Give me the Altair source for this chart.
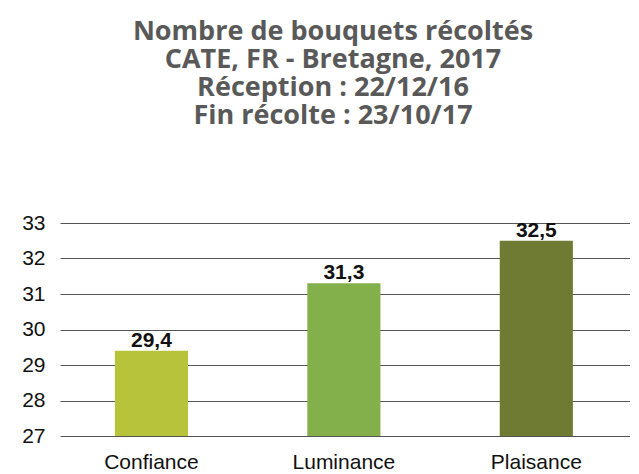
import altair as alt
import pandas as pd

categories = ["Confiance", "Luminance", "Plaisance"]
values = [29.4, 31.3, 32.5]
value_labels = ["29,4", "31,3", "32,5"]
colors = ["#B8C33C", "#84B04C", "#6F7A33"]
y_ticks = [27, 28, 29, 30, 31, 32, 33]
title_lines = [
    "Nombre de bouquets récoltés",
    "CATE, FR - Bretagne, 2017",
    "Réception : 22/12/16",
    "Fin récolte : 23/10/17",
]

df = pd.DataFrame({"cat": categories, "val": values, "lab": value_labels})

y_scale = alt.Scale(domain=[27, 33], zero=False, nice=False)
x_scale = alt.Scale(paddingInner=0.62, paddingOuter=0.291, align=0.49)
x_axis = alt.Axis(labelAngle=0, labelPadding=15, ticks=False, domain=False, grid=False)
y_axis = alt.Axis(
    values=y_ticks,
    labelPadding=15,
    labelOverlap=False,
    labelFlush=False,
    ticks=False,
    domain=False,
    grid=True,
)

x_enc = alt.X("cat:N", sort=categories, title=None, scale=x_scale, axis=x_axis)
y_enc = alt.Y("val:Q", scale=y_scale, title=None, axis=y_axis)

bars = alt.Chart(df).mark_bar(clip=True).encode(
    x=x_enc,
    y=y_enc,
    y2=alt.datum(27),
    color=alt.Color("cat:N", scale=alt.Scale(domain=categories, range=colors), legend=None),
)

labels = alt.Chart(df).mark_text(
    font="Liberation Sans", fontSize=21, fontWeight="bold", color="#111111", dy=-10
).encode(
    x=x_enc,
    y=y_enc,
    text="lab:N",
)

chart = (
    alt.layer(bars, labels)
    .properties(
        width=570,
        height=213,
        padding={"left": 13, "top": 10, "right": 0, "bottom": 0},
        title=alt.TitleParams(
            text=title_lines,
            font="Open Sans",
            fontSize=27,
            fontWeight="bold",
            color="#595959",
            lineHeight=28,
            anchor="middle",
            offset=82,
            dx=-12,
        ),
    )
    .configure_axis(
        labelFont="Liberation Sans",
        labelFontSize=21,
        labelColor="#111111",
        gridColor="#555555",
        gridWidth=1.2,
    )
    .configure_view(stroke=None)
)

chart.save("out.html", embed_options={"renderer": "svg", "actions": False})
